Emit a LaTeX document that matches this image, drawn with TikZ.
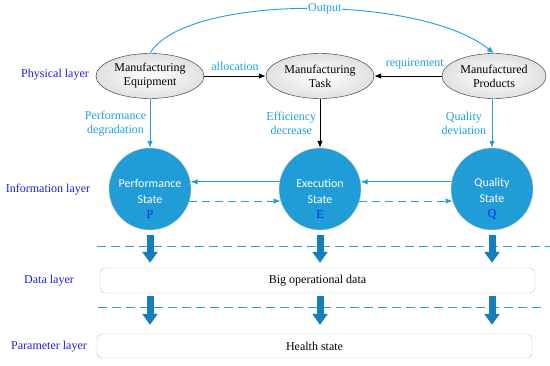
\documentclass[tikz,border=0pt]{standalone}
\usepackage{fontspec}
\setmainfont{Liberation Serif}
\newfontfamily\calibri{Carlito}
\usetikzlibrary{arrows.meta,shapes.geometric}
\definecolor{flowblue}{RGB}{29,160,226}
\definecolor{stateblue}{RGB}{32,156,214}
\definecolor{blockblue}{RGB}{22,126,188}
\definecolor{layerblue}{RGB}{28,28,232}
\definecolor{letterblue}{RGB}{10,40,235}

\begin{document}
\begin{tikzpicture}[x=1pt,y=1pt,
  font=\fontsize{12}{14}\selectfont,
  entity/.style={ellipse,draw=black!85,inner color=white,outer color=black!12,
                 minimum width=108pt,minimum height=45pt,inner sep=0pt,align=center},
  state/.style={circle,draw=black!20,fill=stateblue,minimum size=82pt,inner sep=0pt,
                label={[text=white,align=center,yshift=-10pt,
                        font=\calibri\fontsize{12}{15.5}\selectfont]center:#1}},
  layer/.style={text=layerblue},
  tag/.style={text=flowblue,align=center},
  bar/.style={draw=black!25,rounded corners=5pt,minimum width=435pt,minimum height=25pt},
  arrow/.style={-{Latex[length=7pt,width=5.5pt]},line width=0.9pt},
  flow/.style={arrow,draw=flowblue},
  flowdash/.style={flow,dash pattern=on 8pt off 5pt},
  separator/.style={draw=flowblue,line width=0.9pt,dash pattern=on 9pt off 5pt},
  block/.style={draw=blockblue,line width=7pt,-{Triangle[length=11pt,width=15pt]}}
]
\useasboundingbox (0,0) rectangle (550,365);

% Physical layer.
\node[layer] (lphys) at (55,290) {Physical layer};
\node[entity] (equip) at (150,289) {Manufacturing\\Equipment};
\node[entity] (task) at (320,289) {Manufacturing\\Task};
\node[entity,minimum width=104pt] (prod) at (494,289) {Manufactured\\Products};

% Information layer.
\node[layer] (linfo) at (48,175) {Information layer};
\node[state={Performance\\State\\{\rmfamily\color{letterblue}P}}] (perf) at (150,176) {};
\node[state={Execution\\State\\{\rmfamily\color{letterblue}E}}] (exec) at (320,176) {};
\node[state={Quality\\State\\{\rmfamily\color{letterblue}Q}}] (qual) at (492,176) {};

% Data and parameter layers.
\node[layer] (ldata) at (49,84) {Data layer};
\node[bar] (data) at (317.5,84.5) {Big operational data};
\node[layer] (lpar) at (49,18) {Parameter layer};
\node[bar,minimum height=24pt] (health) at (314.5,19) {Health state};

% Links between physical entities.
\draw[arrow] (equip) -- node[tag,above,yshift=2pt] {allocation} (task);
\draw[arrow] (prod) -- node[tag,above,yshift=3pt,pos=0.4] {requirement} (task);
\draw[flow] (equip.north) .. controls (185,371) and (420,371) .. (prod.north)
  node[pos=0.54,fill=white,inner sep=1pt,text=flowblue] {Output};

% Mapping to states.
\draw[flow] (equip) -- node[tag,left] {Performance\\degradation} (perf);
\draw[arrow] (task) -- node[tag,left] {Efficiency\\decrease} (exec);
\draw[flow] (qual.north |- prod.south) -- node[tag,left,xshift=-2pt] {Quality\\deviation} (qual);
\draw[flow] (exec.170) -- (perf.10);
\draw[flow] (qual.170) -- (exec.10);
\draw[flowdash] (perf.-17) -- (exec.197);
\draw[flowdash] (exec.-17) -- (qual.197);

% Layer separators and block arrows.
\draw[separator] (97,119) -- (550,119);
\draw[separator] (98,58) -- (545,58);
\foreach \s in {perf,exec,qual}{
  \draw[block] ([yshift=-5pt]\s.south) -- ([yshift=5pt]\s.south |- data.north);
  \draw[block] ([yshift=-3pt]\s.south |- data.south) -- ([yshift=9pt]\s.south |- health.north);
}
\end{tikzpicture}
\end{document}
